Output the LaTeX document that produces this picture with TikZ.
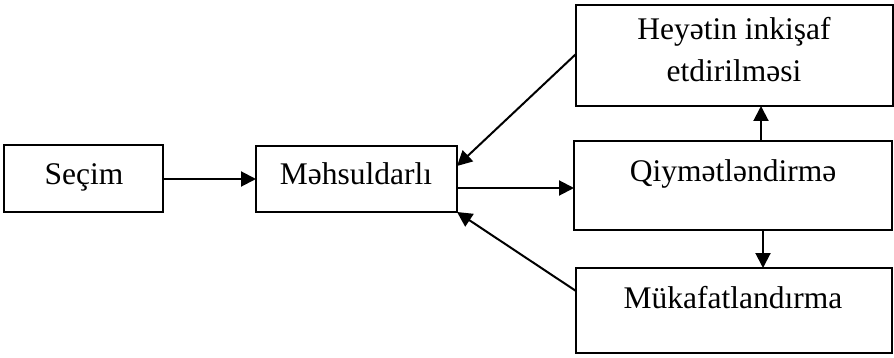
\documentclass[tikz,border=0pt]{standalone}
\usepackage{fontspec}
\setmainfont{Liberation Serif}
\usetikzlibrary{arrows.meta}
\begin{document}
\begin{tikzpicture}[x=1pt,y=-1pt,
  box/.style={draw,line width=2pt,rectangle,inner sep=0pt,outer sep=0pt},
  lbl/.style={inner sep=0pt,anchor=base,font=\fontsize{31.5}{42}\selectfont},
  arr/.style={line width=2pt,-{Triangle[length=15pt,width=15pt]}}]
\useasboundingbox (0,0) rectangle (894,358);
% boxes
\node[box,minimum width=159pt,minimum height=67pt] (sel) at (83.5,178.5) {};
\node[box,minimum width=201pt,minimum height=66pt] (mah) at (356.5,179) {};
\node[box,minimum width=317pt,minimum height=101pt] (hey) at (734.5,55.5) {};
\node[box,minimum width=318pt,minimum height=89pt] (qiy) at (733,185.5) {};
\node[box,minimum width=316pt,minimum height=85pt] (muk) at (734,310.5) {};
% labels
\node[lbl] (selt) at (84,185) {Seçim};
\node[lbl] (maht) at (356,185) {Məhsuldarlı};
\node[lbl] (heyt1) at (734,40) {Heyətin inkişaf};
\node[lbl] (heyt2) at (734,82) {etdirilməsi};
\node[lbl] (qiyt) at (733,182) {Qiymətləndirmə};
\node[lbl] (mukt) at (733,308) {Mükafatlandırma};
% connectors
\draw[arr] (sel.east |- 0,179) -- (mah.west |- 0,179);
\draw[arr] (mah.east |- 0,188) -- (qiy.west |- 0,188);
\draw[arr] (hey.west |- 0,54) -- (mah.east |- 0,166);
\draw[arr] (muk.west |- 0,291) -- (mah.south east);
\draw[arr] (qiy.north -| 761,0) -- (hey.south -| 761,0);
\draw[arr] (qiy.south -| 763,0) -- (muk.north -| 763,0);
\end{tikzpicture}
\end{document}
